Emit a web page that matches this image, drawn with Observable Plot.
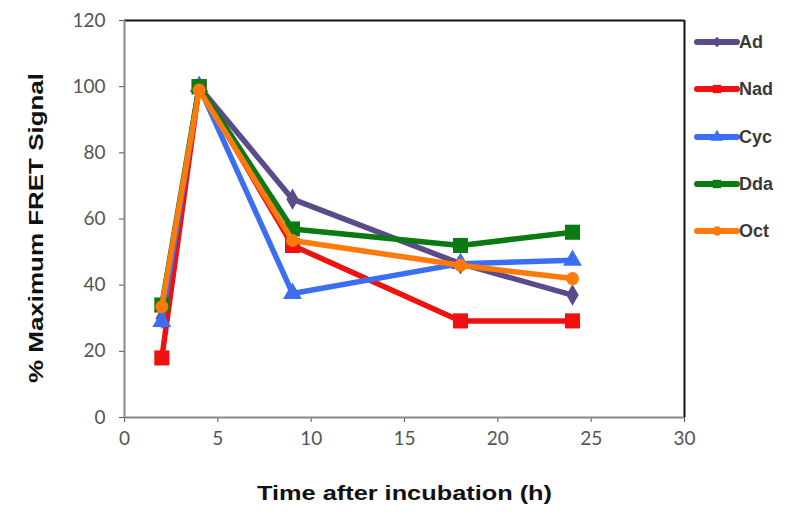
<!DOCTYPE html>
<html><head><meta charset="utf-8">
<script src="https://cdn.jsdelivr.net/npm/d3@7"></script>
<script src="https://cdn.jsdelivr.net/npm/@observablehq/plot@0.6"></script>
<style>
body{margin:0;background:#fff;}
#wrap{position:relative;width:800px;height:525px;}
#legend{position:absolute;left:694px;top:31px;font-family:"Liberation Sans",Arial,sans-serif;font-size:18px;font-weight:bold;color:#3a3a3a;}
.item{position:absolute;left:0;width:100px;height:22px;}
.item svg{position:absolute;left:0;top:0;}
.item span{position:absolute;left:45px;top:1px;}
</style></head>
<body><div id="wrap"><div id="legend"></div></div>
<script>
const times = [2, 4, 9, 18, 24];
const seriesNames = ["Ad", "Nad", "Cyc", "Dda", "Oct"];
const Ad  = [30, 100, 66, 46.5, 37];
const Nad = [18, 100, 52, 29.2, 29.2];
const Cyc = [29, 100, 37.5, 46.5, 47.5];
const Dda = [34, 100, 57, 52, 56];
const Oct = [33.5, 99, 53.5, 46, 42];
const xTicks = [0, 5, 10, 15, 20, 25, 30];
const yTicks = [0, 20, 40, 60, 80, 100, 120];

const colors = {Ad:"#5b4b8a", Nad:"#f01010", Cyc:"#3b6ef0", Dda:"#0c7a12", Oct:"#ff7a0a"};
const symbols = {Ad:"diamond", Nad:"square", Cyc:"triangle", Dda:"square", Oct:"circle"};
const radii = {Ad:6.5, Nad:8.5, Cyc:7, Dda:8.5, Oct:6.5};
const values = {Ad, Nad, Cyc, Dda, Oct};

const data = [];
for (const s of seriesNames) values[s].forEach((v, i) => data.push({series: s, t: times[i], v}));

const marks = [
  Plot.ruleY([120], {stroke:"#111", strokeWidth:2}),
  Plot.ruleX([30], {stroke:"#111", strokeWidth:2}),
  Plot.ruleX([0], {stroke:"#888", strokeWidth:2}),
  Plot.ruleY([0], {stroke:"#888", strokeWidth:2}),
];
for (const s of seriesNames) {
  const d = data.filter(r => r.series === s);
  marks.push(Plot.line(d, {x:"t", y:"v", stroke:colors[s], strokeWidth:5.5, strokeLinejoin:"round"}));
  marks.push(Plot.dot(d, {x:"t", y:"v", fill:colors[s], stroke:"none", symbol:symbols[s], r:radii[s]}));
}

const chart = Plot.plot({
  width: 800, height: 525,
  marginLeft: 124, marginRight: 116, marginTop: 20, marginBottom: 108,
  style: {fontFamily:"Lato, 'Open Sans', sans-serif", fontSize:"19px", color:"#555", background:"#fff"},
  x: {domain:[0,30], ticks:xTicks, tickSize:5, tickPadding:9, label:"Time after incubation (h)", labelAnchor:"center", labelOffset:82, labelArrow:"none"},
  y: {domain:[0,120], ticks:yTicks, tickSize:5, tickPadding:14, label:"% Maximum FRET Signal", labelAnchor:"center", labelOffset:96, labelArrow:"none"},
  marks
});
d3.select(chart).selectAll("[aria-label$='axis'] path, [aria-label$='axis'] line").attr("stroke","#888").attr("stroke-width",1.5);
d3.select(chart).selectAll("[aria-label$='axis label']")
  .style("font-family","'Liberation Sans', Arial, sans-serif").style("font-weight","bold").style("font-size","21px").attr("fill","#111");
d3.select(chart).selectAll("[aria-label='x-axis label'] text").attr("textLength",295).attr("lengthAdjust","spacingAndGlyphs");
d3.select(chart).selectAll("[aria-label='y-axis label'] text").attr("textLength",310).attr("lengthAdjust","spacingAndGlyphs");
d3.select(chart).selectAll("[aria-label='y-axis label']").attr("transform", function(){ const t = this.getAttribute("transform") || ""; return "translate(0,9) " + t; });
document.getElementById("wrap").prepend(chart);

const leg = d3.select("#legend");
seriesNames.forEach((s, i) => {
  const it = leg.append("div").attr("class","item").style("top", (i*47.3)+"px");
  const svg = it.append("svg").attr("width",46).attr("height",22);
  svg.append("line").attr("x1",3).attr("x2",43).attr("y1",11).attr("y2",11).attr("stroke",colors[s]).attr("stroke-width",6).attr("stroke-linecap","round");
  const sym = {diamond:d3.symbolDiamond2, square:d3.symbolSquare, triangle:d3.symbolTriangle, circle:d3.symbolCircle}[symbols[s]];
  svg.append("path").attr("transform","translate(23,11)").attr("d", d3.symbol(sym, 70)()).attr("fill",colors[s]);
  it.append("span").text(s);
});
</script></body></html>
